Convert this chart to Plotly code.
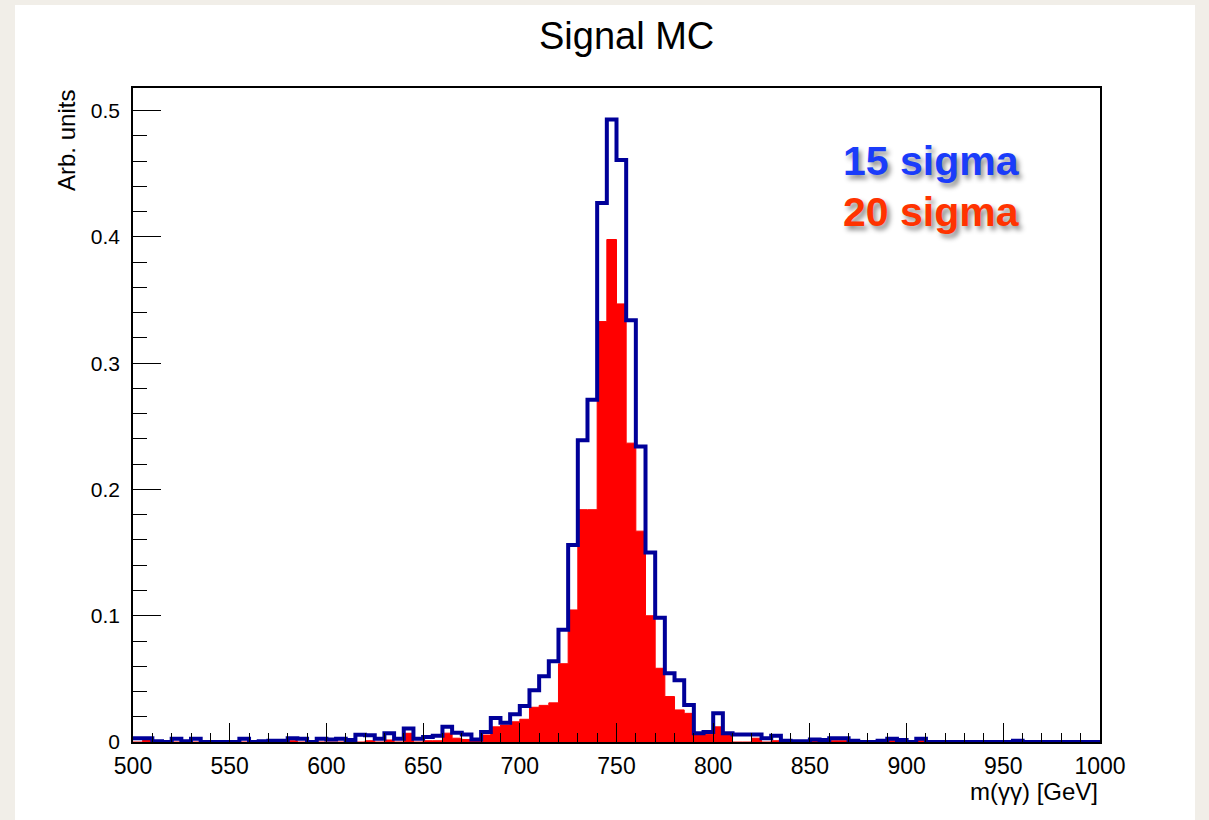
import plotly.graph_objects as go

# ---------------- data ----------------
bin_low = 500
bin_width = 5
n_bins = 100
bin_edges = [bin_low + bin_width * i for i in range(n_bins + 1)]

# 15 sigma (blue outline), bins 500-505 ... 995-1000
sigma15 = [
    0.003, 0.003, 0.0005, 0.0, 0.0025, 0.0005, 0.0025, 0.0, 0.0, 0.0,          # 500-545
    0.0, 0.0025, 0.0, 0.0005, 0.001, 0.001, 0.003, 0.0025, 0.0, 0.0025,        # 550-595
    0.002, 0.0025, 0.0015, 0.0058, 0.0053, 0.0026, 0.0069, 0.0026, 0.0106, 0.0026,  # 600-645
    0.004, 0.005, 0.012, 0.0074, 0.006, 0.002, 0.008, 0.019, 0.0153, 0.022,   # 650-695
    0.0285, 0.041, 0.052, 0.064, 0.089, 0.156, 0.239, 0.271, 0.427, 0.493,    # 700-745
    0.461, 0.334, 0.234, 0.150, 0.0985, 0.0544, 0.049, 0.0293, 0.0069, 0.008,  # 750-795
    0.0227, 0.0069, 0.006, 0.006, 0.006, 0.003, 0.005, 0.001, 0.0005, 0.0005,  # 800-845
    0.002, 0.0015, 0.003, 0.003, 0.001, 0.0, 0.0, 0.001, 0.0026, 0.0015,       # 850-895
    0.0, 0.0026, 0.0, 0.0, 0.0, 0.0, 0.0, 0.0, 0.0, 0.0,                       # 900-945
    0.0, 0.001, 0.0, 0.0, 0.0, 0.0, 0.0, 0.0, 0.0, 0.0,                        # 950-995
]

# 20 sigma (red filled)
sigma20 = [
    0.0, 0.002, 0.0, 0.0, 0.0, 0.0, 0.0, 0.0, 0.0, 0.0,                        # 500-545
    0.0, 0.0, 0.0, 0.0, 0.0, 0.0, 0.001, 0.0, 0.0, 0.0,                        # 550-595
    0.0, 0.0, 0.0, 0.0, 0.001, 0.0, 0.0016, 0.0, 0.0069, 0.0,                  # 600-645
    0.001, 0.001, 0.007, 0.003, 0.002, 0.001, 0.0055, 0.012, 0.0135, 0.016,    # 650-695
    0.018, 0.0275, 0.029, 0.031, 0.062, 0.1046, 0.184, 0.184, 0.333, 0.398,   # 700-745
    0.347, 0.2367, 0.167, 0.100, 0.0584, 0.036, 0.0254, 0.0227, 0.006, 0.006,  # 750-795
    0.012, 0.006, 0.0, 0.0, 0.003, 0.0, 0.001, 0.0, 0.0, 0.0,                  # 800-845
    0.0008, 0.0, 0.001, 0.001, 0.0, 0.0, 0.0, 0.0, 0.001, 0.0,                 # 850-895
    0.0, 0.001, 0.0, 0.0, 0.0, 0.0, 0.0, 0.0, 0.0, 0.0,                        # 900-945
    0.0, 0.0, 0.0, 0.0, 0.0, 0.0, 0.0, 0.0, 0.0, 0.0,                          # 950-995
]

x_tick_vals = [500, 550, 600, 650, 700, 750, 800, 850, 900, 950, 1000]
y_tick_vals = [0, 0.1, 0.2, 0.3, 0.4, 0.5]
y_tick_text = ["0", "0.1", "0.2", "0.3", "0.4", "0.5"]

assert len(sigma15) == n_bins and len(sigma20) == n_bins

step_x = bin_edges
red_y = sigma20 + [sigma20[-1]]
blue_y = sigma15 + [sigma15[-1]]

# ---------------- layout geometry (pixels) ----------------
W, H = 1209, 820
L, R, T, B = 133, 1100, 88, 742
pw, ph = R - L, B - T


def px(xp):
    return (xp - L) / pw


def py(yp):
    return (B - yp) / ph


FONT = "Liberation Sans, Arial, Helvetica, sans-serif"

fig = go.Figure()
fig.add_trace(go.Scatter(
    x=step_x, y=red_y, mode="lines", line=dict(shape="hv", color="#ff0000", width=1),
    fill="tozeroy", fillcolor="#ff0000", hoverinfo="skip", showlegend=False,
))
fig.add_trace(go.Scatter(
    x=step_x, y=blue_y, mode="lines", line=dict(shape="hv", color="#000099", width=4),
    hoverinfo="skip", showlegend=False,
))

fig.update_layout(
    width=W, height=H,
    margin=dict(l=L, r=W - R, t=T, b=H - B, pad=0),
    paper_bgcolor="#f1eee8",
    plot_bgcolor="white",
    showlegend=False,
    font=dict(family=FONT, color="black"),
    shapes=[dict(type="rect", xref="paper", yref="paper",
                 x0=px(15), x1=px(1195), y0=py(822), y1=py(5),
                 fillcolor="white", line=dict(width=0), layer="below")],
)

fig.update_xaxes(
    range=[500, 1000], showgrid=False, zeroline=False,
    showline=True, linecolor="black", linewidth=1.5, mirror=True,
    ticks="inside", ticklen=19, tickwidth=1.2, tickcolor="black",
    tickvals=x_tick_vals, ticktext=[str(v) for v in x_tick_vals],
    tickfont=dict(size=23, family=FONT, color="black"),
    ticklabelstandoff=3,
    minor=dict(dtick=10, tick0=500, ticks="inside", ticklen=9, tickwidth=1.2, tickcolor="black"),
)
fig.update_yaxes(
    range=[0, 0.518], showgrid=False, zeroline=False,
    showline=True, linecolor="black", linewidth=1.5, mirror=True,
    ticks="inside", ticklen=28, tickwidth=1.2, tickcolor="black",
    tickvals=y_tick_vals, ticktext=y_tick_text,
    tickfont=dict(size=21, family=FONT, color="black"),
    ticklabelstandoff=7,
    minor=dict(dtick=0.02, tick0=0, ticks="inside", ticklen=14, tickwidth=1.2, tickcolor="black"),
)

annotations = [
    dict(text="Signal MC", x=px(626), y=py(36), xref="paper", yref="paper",
         xanchor="center", yanchor="middle", showarrow=False,
         font=dict(size=38, family=FONT, color="black")),
    dict(text="Arb. units", x=px(66), y=py(141), xref="paper", yref="paper",
         xanchor="center", yanchor="middle", textangle=-90, showarrow=False,
         font=dict(size=24, family=FONT, color="black")),
    dict(text="m(γγ) [GeV]", x=px(1100), y=py(791), xref="paper", yref="paper",
         xanchor="right", yanchor="middle", showarrow=False,
         font=dict(size=24, family=FONT, color="black")),
    dict(text="<b>15 sigma</b>", x=px(931), y=py(161), xref="paper", yref="paper",
         xanchor="center", yanchor="middle", showarrow=False,
         font=dict(size=41, family=FONT, color="#1a3cfa",
                   shadow="3px 4px 5px rgba(0,0,0,0.45)")),
    dict(text="<b>20 sigma</b>", x=px(931), y=py(212), xref="paper", yref="paper",
         xanchor="center", yanchor="middle", showarrow=False,
         font=dict(size=41, family=FONT, color="#ff3300",
                   shadow="3px 4px 5px rgba(0,0,0,0.45)")),
]
fig.update_layout(annotations=annotations)

fig.write_html("out.html")
